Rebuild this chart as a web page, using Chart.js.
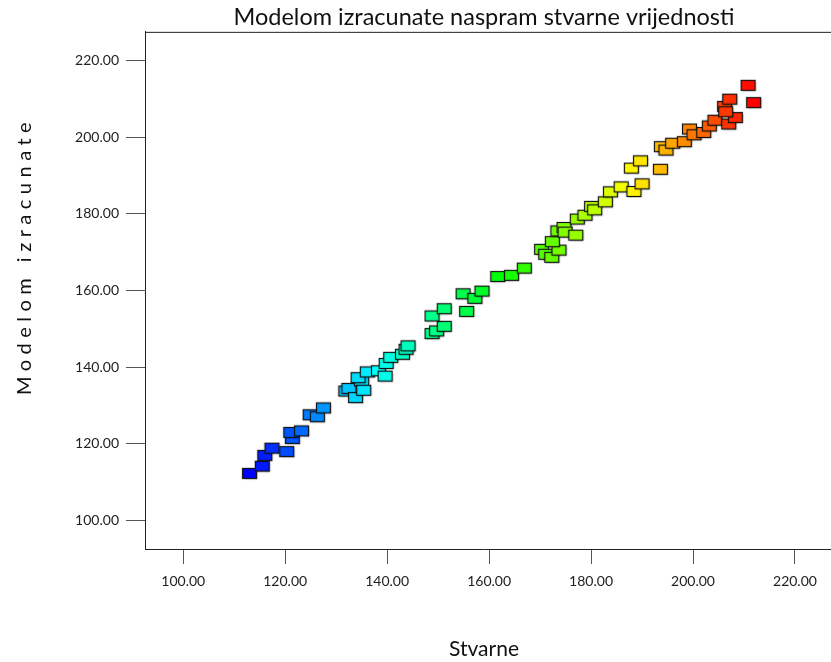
<!DOCTYPE html>
<html lang="hr">
<head>
  <meta charset="UTF-8" />
  <title>Modelom izracunate naspram stvarne vrijednosti</title>
  <script src="https://cdn.jsdelivr.net/npm/chart.js"></script>
  <style>
    * { box-sizing: border-box; }
    body { margin: 0; background: #ffffff; }
    #wrap { width: 831px; height: 662px; }
  </style>
</head>
<body>
  <div id="wrap"><canvas id="grafico" width="831" height="662"></canvas></div>

  <script>
    // vrijednosti ocitane sa slike
    const stvarne = [
      113.1, 115.6, 116.1, 117.5, 120.4, 121.5, 121.2, 123.3, 125.0, 126.4,
      127.6, 132.0, 132.6, 133.9, 135.1, 135.5, 134.4, 136.2, 138.4, 139.7,
      139.9, 140.8, 143.1, 143.8, 144.2, 148.9, 149.8, 151.3, 148.9, 151.3,
      155.7, 155.0, 157.3, 158.7, 161.8, 164.5, 167.0, 170.4, 171.2, 172.4,
      173.8, 172.5, 173.6, 174.8, 175.0, 177.1, 177.4, 178.9, 180.2, 180.8,
      182.9, 183.9, 186.0, 188.5, 190.1, 188.0, 189.8, 193.7, 193.9, 194.8,
      196.1, 198.4, 199.4, 200.3, 202.2, 203.3, 204.4, 207.1, 208.4, 206.3,
      206.5, 207.3, 210.9, 212.0
    ];
    const modelom = [
      112.1, 114.0, 116.8, 118.7, 117.8, 121.2, 122.8, 123.2, 127.4, 126.9,
      129.2, 133.6, 134.3, 131.9, 136.2, 133.8, 137.1, 138.6, 138.9, 137.5,
      140.8, 142.4, 143.2, 144.5, 145.4, 148.6, 149.3, 150.5, 153.2, 155.1,
      154.4, 159.0, 157.8, 159.7, 163.5, 163.8, 165.7, 170.6, 169.3, 168.5,
      170.4, 172.6, 175.4, 176.3, 175.1, 174.3, 178.5, 179.5, 181.8, 180.9,
      183.0, 185.6, 186.9, 185.7, 187.7, 191.8, 193.7, 191.5, 197.4, 196.5,
      198.3, 198.7, 202.0, 200.5, 201.1, 202.8, 204.3, 203.3, 205.0, 207.9,
      206.5, 209.8, 213.4, 208.9
    ];
    const tickVals = [100, 120, 140, 160, 180, 200, 220];

    const xMin = Math.min(...stvarne);
    const xMax = Math.max(...stvarne);

    // boja po x vrijednosti: plavo -> crveno
    function boja(x) {
      const h = 240 * (1 - (x - xMin) / (xMax - xMin));
      return 'hsl(' + h.toFixed(0) + ',100%,50%)';
    }

    const cache = {};
    function marker(col) {
      if (cache[col]) return cache[col];
      const c = document.createElement('canvas');
      c.width = 18; c.height = 14;
      const g = c.getContext('2d');
      g.shadowColor = 'rgba(0,0,0,0.4)';
      g.shadowBlur = 1.5;
      g.shadowOffsetX = 1;
      g.shadowOffsetY = 1;
      g.fillStyle = col;
      g.fillRect(1.5, 1.5, 14, 10);
      g.shadowColor = 'transparent';
      g.lineWidth = 1.2;
      g.strokeStyle = '#111';
      g.strokeRect(1.5, 1.5, 14, 10);
      cache[col] = c;
      return c;
    }

    // okvir: gornja linija i produzena x os do ruba, naslov y osi
    const okvir = {
      id: 'okvir',
      afterDraw(chart) {
        const { ctx, chartArea } = chart;
        ctx.save();
        ctx.strokeStyle = '#222';
        ctx.lineWidth = 1;
        ctx.beginPath();
        ctx.moveTo(chartArea.left, chartArea.top + 0.5);
        ctx.lineTo(chart.width, chartArea.top + 0.5);
        ctx.moveTo(chartArea.right - 1, chartArea.bottom + 0.5);
        ctx.lineTo(chart.width, chartArea.bottom + 0.5);
        ctx.stroke();
        // razmaknuta slova
        ctx.translate(25, 256);
        ctx.rotate(-Math.PI / 2);
        ctx.font = '20px Lato';
        ctx.letterSpacing = '5.5px';
        ctx.fillStyle = '#111';
        ctx.textAlign = 'center';
        ctx.textBaseline = 'middle';
        ctx.fillText('Modelom izracunate', 0, 0);
        ctx.restore();
      }
    };

    const ctx = document.getElementById('grafico').getContext('2d');
    new Chart(ctx, {
      type: 'scatter',
      data: {
        datasets: [{
          data: stvarne.map((x, i) => ({ x: x, y: modelom[i] })),
          pointStyle: c => marker(boja(c.raw ? c.raw.x : xMin)),
          pointRadius: 7
        }]
      },
      options: {
        responsive: false,
        animation: false,
        layout: { padding: 0 },
        plugins: {
          legend: { display: false },
          tooltip: { enabled: false },
          title: {
            display: true,
            fullSize: false,
            text: 'Modelom izracunate naspram stvarne vrijednosti',
            color: '#111',
            font: { family: 'Lato', size: 23.5, weight: 'normal', lineHeight: 1.1 },
            padding: { top: 4, bottom: 2 }
          }
        },
        scales: {
          x: {
            type: 'linear',
            min: 92.5,
            max: 225.5,
            afterBuildTicks: s => { s.ticks = tickVals.map(v => ({ value: v })); },
            afterFit: s => { s.height = 113; },
            grid: { drawOnChartArea: false, drawTicks: true, tickLength: 15, color: '#555' },
            border: { display: true, color: '#222' },
            ticks: {
              color: '#222',
              font: { family: 'Lato', size: 14 },
              padding: 9,
              maxRotation: 0,
              autoSkip: false,
              callback: v => v.toFixed(2)
            },
            title: {
              display: true,
              text: 'Stvarne',
              color: '#111',
              font: { family: 'Lato', size: 21 },
              padding: { top: 0, bottom: 0 }
            }
          },
          y: {
            type: 'linear',
            min: 92.5,
            max: 227.5,
            afterBuildTicks: s => { s.ticks = tickVals.map(v => ({ value: v })); },
            afterFit: s => { s.width = 145; },
            grid: { drawOnChartArea: false, drawTicks: true, tickLength: 19, color: '#555' },
            border: { display: true, color: '#222' },
            ticks: {
              color: '#222',
              font: { family: 'Lato', size: 14 },
              padding: 7,
              autoSkip: false,
              callback: v => v.toFixed(2)
            }
          }
        }
      },
      plugins: [okvir]
    });
  </script>
</body>
</html>
